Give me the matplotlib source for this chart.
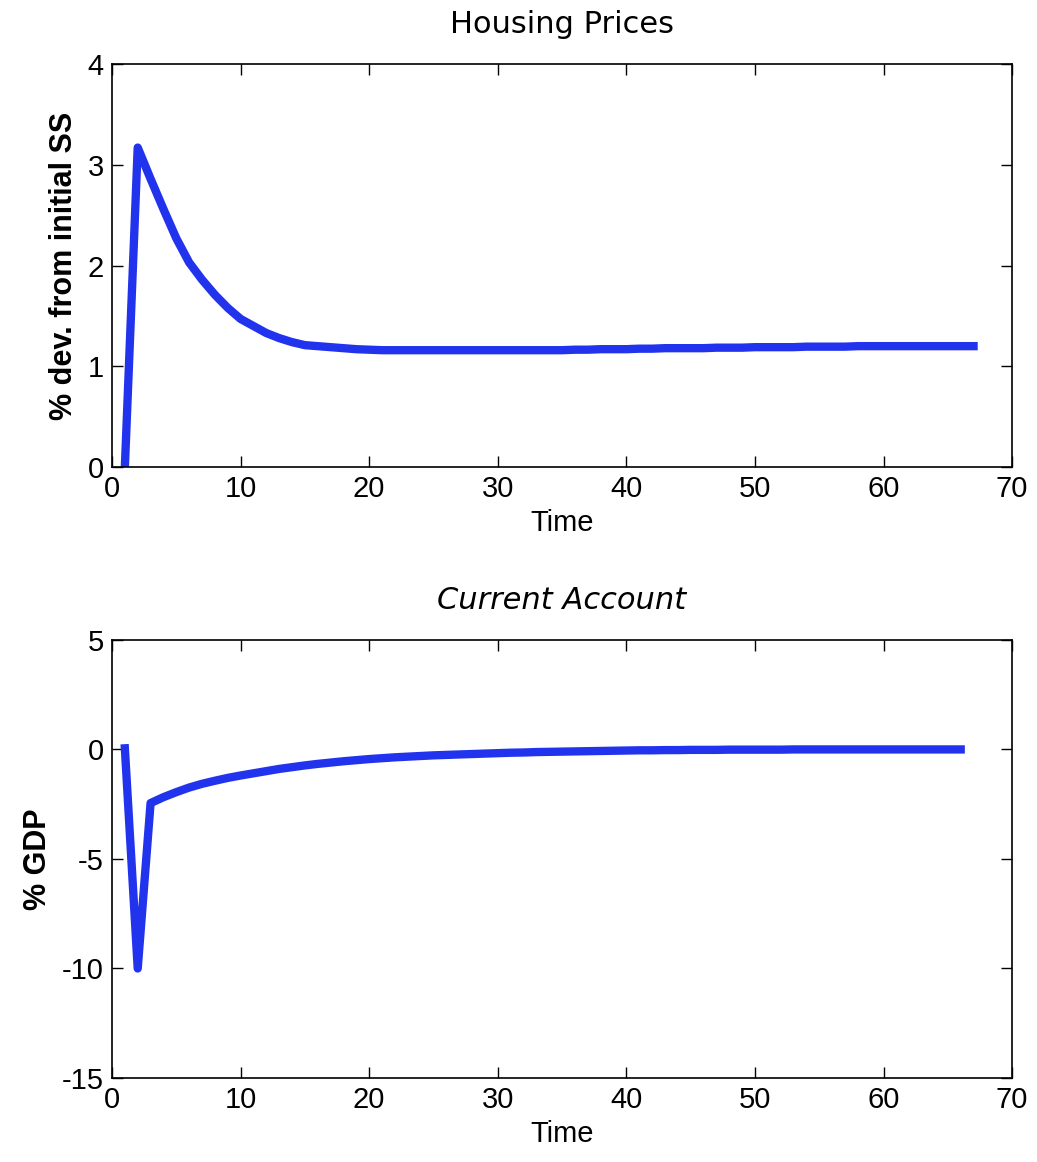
import numpy as np
import matplotlib.pyplot as plt

plt.rcParams['font.family'] = ['Liberation Sans', 'DejaVu Sans']
plt.rcParams['axes.unicode_minus'] = False

# Housing prices, % deviation from initial steady state, t = 1..67
house_t = np.arange(1, 68)
house = [0.0, 3.17, 2.86, 2.56, 2.27, 2.03, 1.86, 1.71, 1.58, 1.47,
         1.40, 1.33, 1.28, 1.24, 1.21, 1.20, 1.19, 1.18, 1.17, 1.165,
         1.16, 1.16, 1.16, 1.16, 1.16, 1.16, 1.16, 1.16, 1.16, 1.16,
         1.16, 1.16, 1.16, 1.16, 1.16, 1.165, 1.165, 1.17, 1.17, 1.17,
         1.175, 1.175, 1.18, 1.18, 1.18, 1.18, 1.185, 1.185, 1.185, 1.19,
         1.19, 1.19, 1.19, 1.195, 1.195, 1.195, 1.195, 1.2, 1.2, 1.2,
         1.2, 1.2, 1.2, 1.2, 1.2, 1.2, 1.2]

# Current account, % GDP, t = 1..66
ca_t = np.arange(1, 67)
ca = [0.05, -10.0, -2.45, -2.18, -1.95, -1.74, -1.57, -1.43, -1.30, -1.19,
      -1.09, -0.99, -0.89, -0.81, -0.73, -0.66, -0.60, -0.54, -0.49, -0.44,
      -0.40, -0.36, -0.33, -0.30, -0.27, -0.25, -0.23, -0.21, -0.19, -0.17,
      -0.15, -0.14, -0.12, -0.11, -0.10, -0.09, -0.08, -0.07, -0.06, -0.05,
      -0.04, -0.04, -0.03, -0.03, -0.02, -0.02, -0.02, -0.01, -0.01, -0.01,
      -0.01, -0.01, 0.0, 0.0, 0.0, 0.0, 0.0, 0.0, 0.0, 0.0,
      0.0, 0.0, 0.0, 0.0, 0.0, 0.0]

line_color = '#2233ee'

fig = plt.figure(figsize=(10.37, 11.62), dpi=100)
ax1 = fig.add_axes([0.108, 0.598, 0.868, 0.347])
ax2 = fig.add_axes([0.108, 0.0723, 0.868, 0.377])

for ax in (ax1, ax2):
    ax.tick_params(direction='in', length=8, width=1, top=True, right=True,
                   labelsize=21, pad=6)
    ax.set_xlim(0, 70)
    ax.set_xticks(range(0, 71, 10))
    for sp in ax.spines.values():
        sp.set_linewidth(1.2)

ax1.plot(house_t, house, color=line_color, lw=6, solid_joinstyle='round')
ax1.set_ylim(0, 4)
ax1.set_yticks([0, 1, 2, 3, 4])
ax1.set_title('Housing Prices', fontsize=22, pad=22, family='DejaVu Sans')
ax1.set_xlabel('Time', fontsize=21, labelpad=4)
ax1.set_ylabel('% dev. from initial SS', fontsize=22, labelpad=6,
               fontweight='bold')

ax2.plot(ca_t, ca, color=line_color, lw=6, solid_joinstyle='round')
ax2.set_ylim(-15, 5)
ax2.set_yticks([-15, -10, -5, 0, 5])
ax2.set_title('Current Account', fontsize=22, pad=22, style='italic',
              family='DejaVu Sans')
ax2.set_xlabel('Time', fontsize=21, labelpad=4)
ax2.set_ylabel('% GDP', fontsize=22, labelpad=6, fontweight='bold')

fig.savefig('out.png', dpi=100)
